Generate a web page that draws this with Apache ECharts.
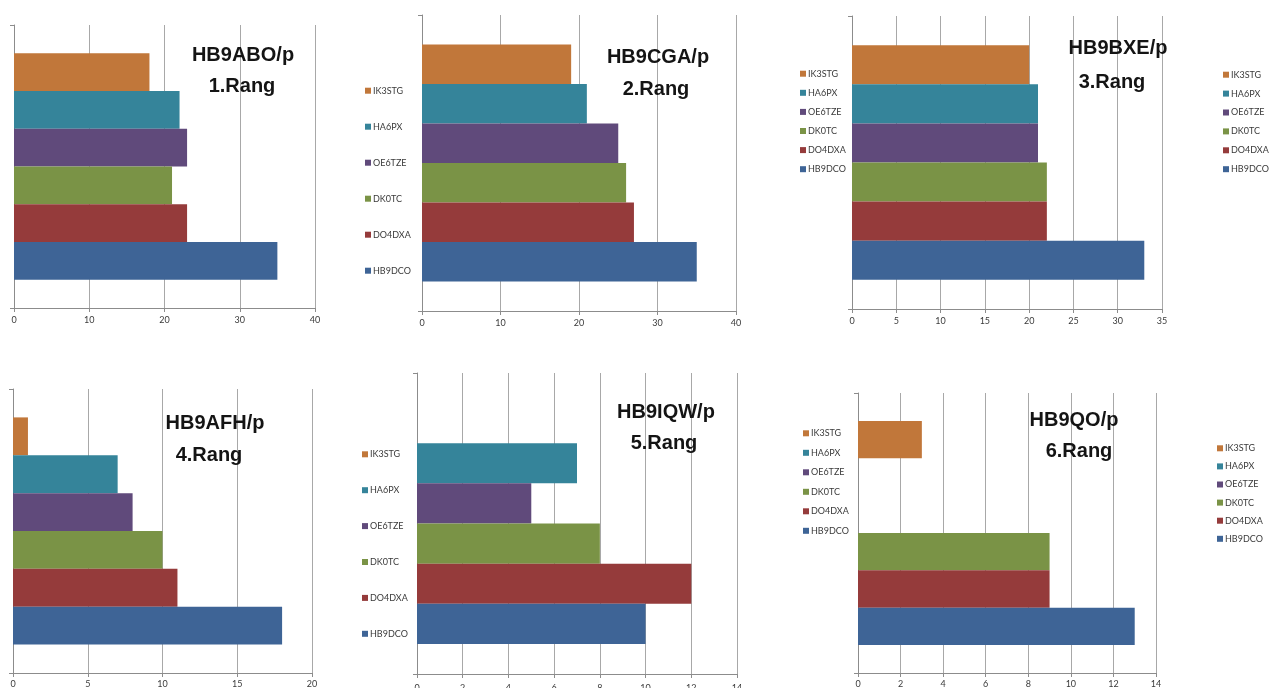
<!DOCTYPE html>
<html>
<head>
<meta charset="utf-8">
<script src="https://cdn.jsdelivr.net/npm/echarts@6/dist/echarts.min.js"></script>
<style>
html,body{margin:0;padding:0;background:#fff;}
#c{width:1269px;height:688px;}
</style>
</head>
<body>
<div id="c"></div>
<script>
// Stations (chart series), Excel order: first = bottom bar
const stations = ['HB9DCO', 'DO4DXA', 'DK0TC', 'OE6TZE', 'HA6PX', 'IK3STG'];
const stationColors = ['#3E6496', '#953B3B', '#7A9346', '#604A7B', '#35849A', '#C1773A'];

const panelTitles = ['HB9ABO/p', 'HB9CGA/p', 'HB9BXE/p', 'HB9AFH/p', 'HB9IQW/p', 'HB9QO/p'];
const panelRanks = ['1.Rang', '2.Rang', '3.Rang', '4.Rang', '5.Rang', '6.Rang'];

// values per panel, in stations order
const valuesHB9ABO = [35, 23, 21, 23, 22, 18];
const valuesHB9CGA = [35, 27, 26, 25, 21, 19];
const valuesHB9BXE = [33, 22, 22, 21, 21, 20];
const valuesHB9AFH = [18, 11, 10, 8, 7, 1];
const valuesHB9IQW = [10, 12, 8, 5, 7, 0];
const valuesHB9QO  = [13, 9, 9, 0, 0, 3];

// value axis tick settings per panel
const axisMax = [40, 40, 35, 20, 14, 14];
const axisInterval = [10, 10, 5, 5, 2, 2];

const panelValues = [valuesHB9ABO, valuesHB9CGA, valuesHB9BXE, valuesHB9AFH, valuesHB9IQW, valuesHB9QO];

// layout (pixels)
const grids = [
  {left: 14, top: 25, width: 301, height: 283},
  {left: 422, top: 15, width: 314, height: 296},
  {left: 852, top: 16, width: 310, height: 293},
  {left: 13, top: 389, width: 299, height: 284},
  {left: 417, top: 373, width: 320, height: 301},
  {left: 858, top: 393, width: 298, height: 280}
];
const labelMargins = [8, 8, 8, 7, 10, 7];
const titlePos = [
  [243, 55, 242, 86],
  [658, 57, 656, 89],
  [1118, 48, 1112, 82],
  [215, 423, 209, 455],
  [666, 412, 664, 443],
  [1074, 420, 1079, 451]
];
const legendPos = [
  {left: 365, top: 85.7, gap: 26},
  {left: 800, top: 68.7, gap: 9.1},
  {left: 1223, top: 69.7, gap: 8.9},
  {left: 362, top: 449.3, gap: 25.9},
  {left: 803, top: 428.3, gap: 9.5},
  {left: 1217, top: 443.3, gap: 8.1}
];

const gridCol = '#A8A8A8';
const labelFont = 'Lato, "Open Sans", sans-serif';

const option = {
  animation: false,
  backgroundColor: '#ffffff',
  grid: grids.map(g => Object.assign({containLabel: false, outerBoundsMode: 'none'}, g)),
  xAxis: grids.map((g, i) => ({
    type: 'value',
    gridIndex: i,
    min: 0,
    max: axisMax[i],
    interval: axisInterval[i],
    axisLine: {show: true, lineStyle: {color: '#8C8C8C', width: 1}},
    axisTick: {show: true, length: 4, lineStyle: {color: '#8C8C8C'}},
    splitLine: {show: true, lineStyle: {color: gridCol, width: 1}},
    axisLabel: {show: true, fontSize: 9, color: '#3a3a3a', fontFamily: labelFont, margin: labelMargins[i]}
  })),
  yAxis: grids.map((g, i) => ({
    type: 'category',
    gridIndex: i,
    data: [''],
    axisLine: {show: true, lineStyle: {color: '#8C8C8C', width: 1}},
    axisTick: {show: true, length: 4, lineStyle: {color: '#8C8C8C'}},
    axisLabel: {show: false},
    splitLine: {show: false}
  })),
  legend: legendPos.map(p => ({
    orient: 'vertical',
    left: p.left,
    top: p.top,
    padding: 0,
    itemGap: p.gap,
    itemWidth: 6,
    itemHeight: 6,
    icon: 'rect',
    selectedMode: false,
    data: stations.slice().reverse(),
    textStyle: {fontSize: 9, lineHeight: 10, color: '#3a3a3a', fontFamily: labelFont, padding: [0, 0, 0, -3]}
  })),
  series: [],
  graphic: []
};

// ECharts stacks the band's bars top-down in series order, so add them last station first
const drawOrder = stations.map((_, i) => i).reverse();
panelValues.forEach((vals, p) => {
  drawOrder.forEach(s => {
    option.series.push({
      type: 'bar',
      name: stations[s],
      xAxisIndex: p,
      yAxisIndex: p,
      data: [vals[s]],
      barGap: '0%',
      barCategoryGap: '20%',
      itemStyle: {color: stationColors[s]},
      emphasis: {disabled: true}
    });
  });
  const tp = titlePos[p];
  option.graphic.push({
    type: 'text', x: tp[0], y: tp[1], z: 100,
    style: {text: panelTitles[p], font: 'bold 20px "Liberation Sans", Arial, sans-serif', fill: '#141414', textAlign: 'center', textVerticalAlign: 'middle'}
  });
  option.graphic.push({
    type: 'text', x: tp[2], y: tp[3], z: 100,
    style: {text: panelRanks[p], font: 'bold 20px "Liberation Sans", Arial, sans-serif', fill: '#141414', textAlign: 'center', textVerticalAlign: 'middle'}
  });
});

const chart = echarts.init(document.getElementById('c'), null, {renderer: 'canvas'});
chart.setOption(option);
</script>
</body>
</html>
